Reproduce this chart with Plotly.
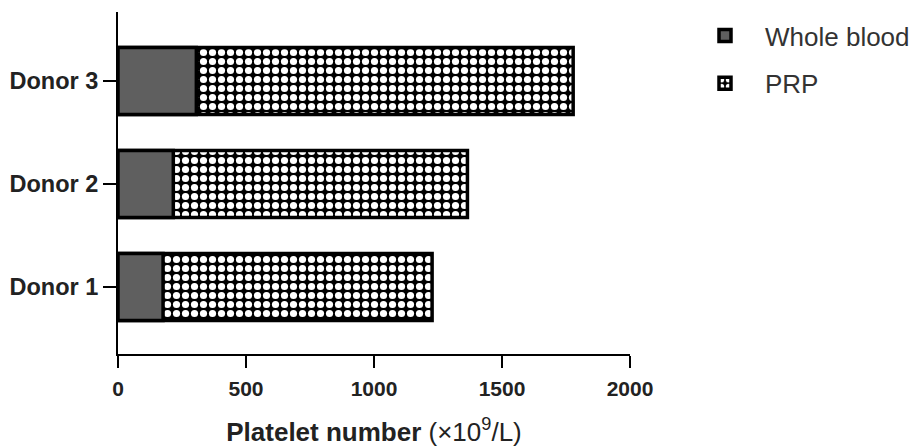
import plotly.graph_objects as go

donors = ["Donor 1", "Donor 2", "Donor 3"]
whole_blood = [176, 216, 306]
prp = [1227, 1365, 1778]
x_ticks = [0, 500, 1000, 1500, 2000]

FONT = "Liberation Sans, Arial, sans-serif"
TXT = "#222222"

fig = go.Figure()
fig.add_trace(go.Bar(
    y=donors, x=prp, orientation="h", name="PRP", width=0.65,
    marker=dict(color="black", line=dict(color="black", width=3.5),
                pattern=dict(shape=".", fgcolor="white", bgcolor="black",
                             fgopacity=1, size=9, solidity=0.5)),
    legendrank=2, legendgroup="b",
))
fig.add_trace(go.Bar(
    y=donors, x=whole_blood, orientation="h", name="Whole blood", width=0.65,
    marker=dict(color="#5f5f5f", line=dict(color="black", width=3.5)),
    legendrank=1, legendgroup="a",
))

# page body adds an 8px offset; margins compensate
fig.update_layout(
    width=923, height=448,
    margin=dict(l=110, r=301, t=4, b=102),
    barmode="overlay",
    plot_bgcolor="white", paper_bgcolor="white",
    font=dict(family=FONT, color=TXT),
    legend=dict(xref="container", yref="container",
                x=677 / 923, y=1 - 4 / 448, xanchor="left", yanchor="top",
                itemwidth=70,
                font=dict(size=26, color="#333333"),
                traceorder="grouped", tracegroupgap=11,
                bgcolor="rgba(0,0,0,0)"),
    xaxis=dict(
        range=[0, 2000], tickvals=x_ticks,
        ticktext=[f"<b>{v}</b>" for v in x_ticks],
        showline=True, linecolor="black", linewidth=2,
        ticks="outside", ticklen=12, tickwidth=2, tickcolor="black",
        ticklabelstandoff=3,
        showgrid=False, zeroline=False, automargin=False,
        tickfont=dict(size=21, color=TXT),
        title=dict(text="<b>Platelet number</b> (×10<sup>9</sup>/L)",
                   font=dict(size=26, color=TXT), standoff=24),
    ),
    yaxis=dict(
        type="category", categoryorder="array", categoryarray=donors,
        range=[-0.65, 2.67],
        tickvals=donors, ticktext=[f"<b>{d}</b>" for d in donors],
        showline=True, linecolor="black", linewidth=2,
        ticks="outside", ticklen=13, tickwidth=2, tickcolor="black",
        showgrid=False, zeroline=False, automargin=False,
        tickfont=dict(size=23.5, color=TXT),
    ),
)

fig.write_html("out.html")
